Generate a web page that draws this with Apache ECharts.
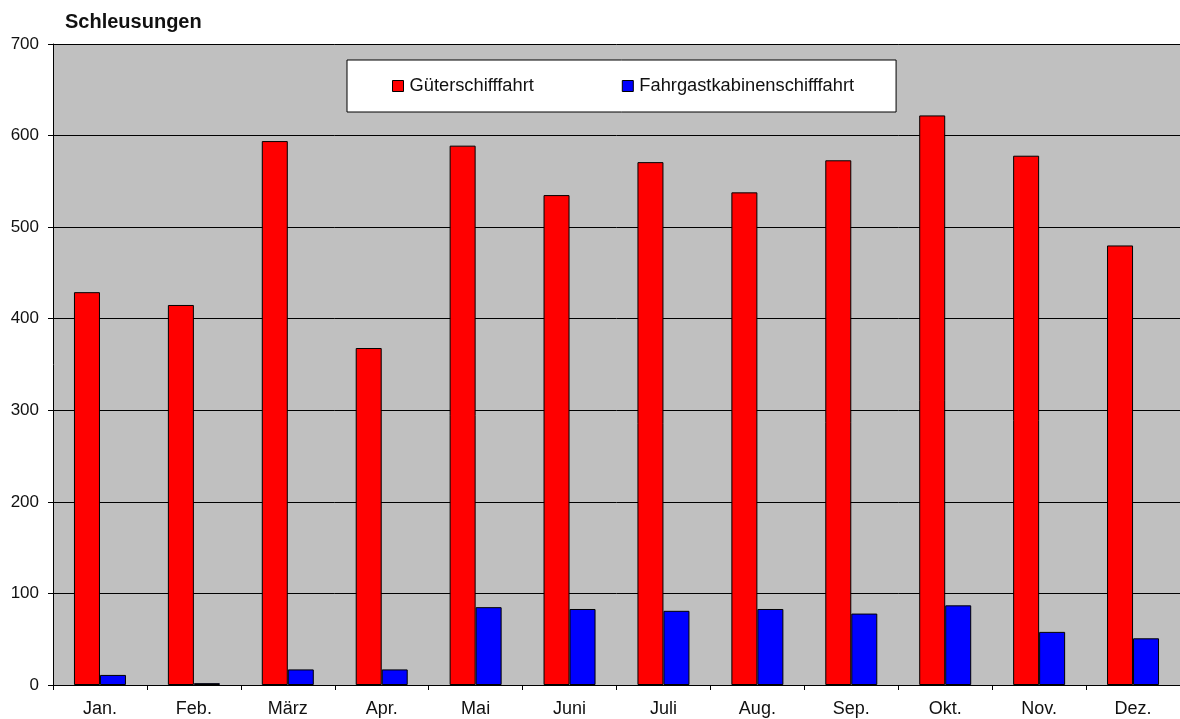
<!DOCTYPE html>
<html><head><meta charset="utf-8">
<script src="https://cdn.jsdelivr.net/npm/echarts@6/dist/echarts.min.js"></script>
<style>html,body{margin:0;padding:0;background:#fff}#c{width:1180px;height:719px}</style>
</head><body><div id="c"></div>
<script>
const categories = ['Jan.','Feb.','März','Apr.','Mai','Juni','Juli','Aug.','Sep.','Okt.','Nov.','Dez.'];
const gueter = [429, 415, 594, 368, 589, 535, 571, 538, 573, 622, 578, 480];
const fahrgast = [11, 2, 17, 17, 85, 83, 81, 83, 78, 87, 58, 51];
const seriesNames = ['Güterschifffahrt', 'Fahrgastkabinenschifffahrt'];

const chart = echarts.init(document.getElementById('c'), null, {renderer:'canvas'});
const font = 'Liberation Sans, Arial, sans-serif';
chart.setOption({
  animation: false,
  backgroundColor: '#fff',
  title: {text: 'Schleusungen', left: 60, top: 7,
    textStyle: {fontFamily: font, fontSize: 20, fontWeight: 'bold', color: '#111'}},
  legend: {
    data: seriesNames, top: 60, left: 347,
    padding: [17, 42, 17, 45],
    backgroundColor: '#fff', borderColor: '#000', borderWidth: 1,
    itemWidth: 11, itemHeight: 11, itemGap: 88,
    textStyle: {fontFamily: font, fontSize: 18.3, color: '#111', padding: [0,0,0,1]},
    icon: 'rect',
    itemStyle: {borderColor: '#000', borderWidth: 1}
  },
  grid: {left: 53, right: 0, top: 44, bottom: 34, show: true, backgroundColor: '#C0C0C0', borderWidth: 0},
  xAxis: {
    type: 'category', data: categories,
    axisLine: {lineStyle: {color: '#000', width: 1}},
    axisTick: {show: true, length: 5, lineStyle: {color: '#000'}},
    axisLabel: {fontFamily: font, fontSize: 18, color: '#111', margin: 15}
  },
  yAxis: {
    type: 'value', min: 0, max: 700, interval: 100,
    axisLine: {show: true, lineStyle: {color: '#000', width: 1}},
    axisTick: {show: true, length: 5, lineStyle: {color: '#000'}},
    axisLabel: {fontFamily: font, fontSize: 17, color: '#111', margin: 14},
    splitLine: {show: true, lineStyle: {color: '#000', width: 1}}
  },
  series: [
    {name: seriesNames[0], type: 'bar', data: gueter, barWidth: 26, barGap: '0%',
     itemStyle: {color: '#FF0000', borderColor: '#000', borderWidth: 1}},
    {name: seriesNames[1], type: 'bar', data: fahrgast, barWidth: 26, barGap: '0%',
     itemStyle: {color: '#0000FF', borderColor: '#000', borderWidth: 1}}
  ]
});
</script></body></html>
